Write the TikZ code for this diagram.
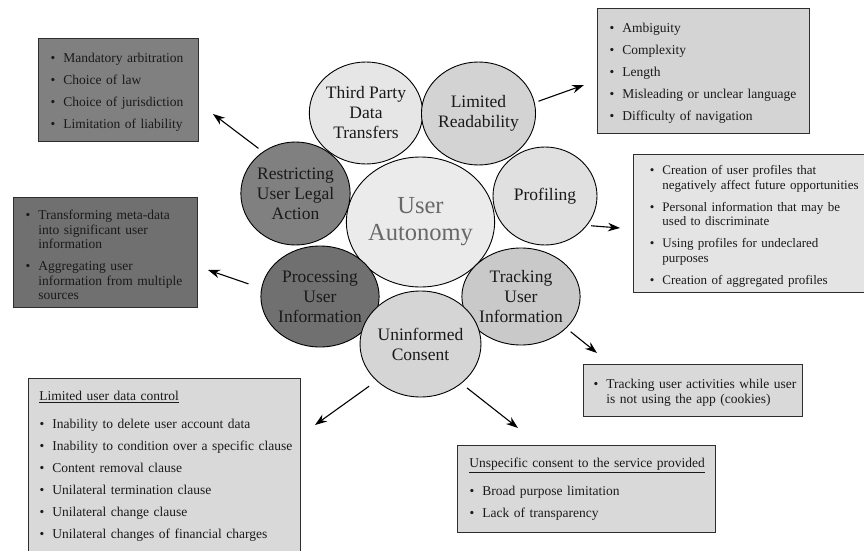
\documentclass[tikz,border=0pt]{standalone}
\usepackage{fontspec}
\setmainfont{Liberation Serif}
\usepackage{enumitem}
\usepackage{tikz}
\usetikzlibrary{arrows.meta,shapes.geometric}
\definecolor{ink}{HTML}{1A1A1A}
\definecolor{rim}{HTML}{2E2E2E}
\definecolor{autotext}{HTML}{686868}
\definecolor{autofill}{HTML}{EBEBEB}
\definecolor{thirdfill}{HTML}{E6E6E6}
\definecolor{readfill}{HTML}{D3D3D3}
\definecolor{legalfill}{HTML}{808080}
\definecolor{proffill}{HTML}{E0E0E0}
\definecolor{procfill}{HTML}{707070}
\definecolor{trackfill}{HTML}{C9C9C9}
\definecolor{consfill}{HTML}{D5D5D5}
\definecolor{readbox}{HTML}{D4D4D4}
\definecolor{profbox}{HTML}{E4E4E4}
\definecolor{lightbox}{HTML}{D9D9D9}
\setlist[itemize]{label=\textbullet,leftmargin=13pt,labelsep=8pt,itemsep=7.5pt,topsep=0pt,parsep=0pt,partopsep=0pt}
\newcommand{\oneline}[1]{\makebox[\linewidth][l]{#1}}
\tikzset{
  >={Stealth[length=12pt,width=8.5pt]},
  bubble/.style={ellipse,draw=black,line width=.9pt,inner sep=0pt,align=center,text=ink,font=\fontsize{17.5}{20}\selectfont},
  listbox/.style={draw=rim,line width=.9pt,anchor=north west,inner xsep=12pt,inner ysep=0pt,text=ink,font=\fontsize{13.5}{14.5}\selectfont},
  pointer/.style={->,line width=1.1pt,shorten <=#1},
}

\begin{document}
\begin{tikzpicture}[x=1pt,y=1pt]
  \useasboundingbox (0,0) rectangle (864,-551);

  \node[bubble,fill=autofill,minimum width=141pt,minimum height=130pt,text=autotext,font=\fontsize{24.5}{27}\selectfont]
    (auto) at (420.5,-222) {User\\Autonomy};
  \node[bubble,fill=thirdfill,minimum width=106pt,minimum height=102pt] (third) at (366,-113) {Third Party\\Data\\Transfers};
  \node[bubble,fill=readfill,minimum width=109pt,minimum height=103pt] (readab) at (478.5,-113.5) {Limited\\Readability};
  \node[bubble,fill=legalfill,minimum width=105pt,minimum height=103pt] (restrict) at (295.5,-193.5) {Restricting\\User Legal\\Action};
  \node[bubble,fill=proffill,minimum width=104pt,minimum height=98pt] (profil) at (545,-196) {Profiling};
  \node[bubble,fill=procfill,minimum width=108pt,minimum height=101pt] (process) at (320,-296.5) {Processing\\User\\Information};
  \node[bubble,fill=trackfill,minimum width=108pt,minimum height=97pt] (tracking) at (521,-296.5) {Tracking\\User\\Information};
  \node[bubble,fill=consfill,minimum width=113pt,minimum height=106pt] (consent) at (420.5,-344) {Uninformed\\Consent};

  \node[listbox,fill=legalfill,text width=136pt,minimum height=103pt] (legalbox) at (38,-38) {%
    \begin{itemize}
      \item Mandatory arbitration
      \item Choice of law
      \item Choice of jurisdiction
      \item Limitation of liability
    \end{itemize}};
  \node[listbox,fill=procfill,text width=160pt,minimum height=110pt] (procbox) at (13,-197) {%
    \begin{itemize}
      \item Transforming meta-data\newline into significant user\newline information
      \item Aggregating user\newline information from multiple\newline sources
    \end{itemize}};
  \node[listbox,fill=readbox,text width=188pt,minimum height=125pt] (readbox) at (597,-8) {%
    \begin{itemize}
      \item Ambiguity
      \item Complexity
      \item Length
      \item Misleading or unclear language
      \item Difficulty of navigation
    \end{itemize}};
  \node[listbox,fill=profbox,inner xsep=16pt,text width=212pt,minimum height=138pt,font=\fontsize{13}{14.5}\selectfont]
    (profbox) at (633,-154) {%
    \begin{itemize}
      \item Creation of user profiles that\newline negatively affect future opportunities
      \item Personal information that may be\newline used to discriminate
      \item Using profiles for undeclared\newline purposes
      \item Creation of aggregated profiles
    \end{itemize}};
  \node[listbox,fill=lightbox,inner xsep=10pt,text width=199pt,minimum height=52pt] (trackbox) at (583,-364) {%
    \begin{itemize}
      \item \oneline{Tracking user activities while user}\newline is not using the app (cookies)
    \end{itemize}};
  \node[listbox,fill=lightbox,text width=234pt,minimum height=87pt] (specbox) at (457,-445) {%
    \underline{Unspecific consent to the service provided}\par\vspace{13pt}
    \begin{itemize}
      \item Broad purpose limitation
      \item Lack of transparency
    \end{itemize}};
  \node[listbox,fill=lightbox,inner xsep=11pt,text width=250pt,minimum height=176pt] (databox) at (28,-378) {%
    \underline{Limited user data control}\par\vspace{13pt}
    \begin{itemize}
      \item Inability to delete user account data
      \item \oneline{Inability to condition over a specific clause}
      \item Content removal clause
      \item Unilateral termination clause
      \item Unilateral change clause
      \item Unilateral changes of financial charges
    \end{itemize}};

  \coordinate (legaltip) at (213,-114);
  \coordinate (proctip) at (208,-270);
  \coordinate (readtip) at (584,-85);
  \coordinate (proftip) at (620,-228);
  \coordinate (tracktip) at (597,-353);
  \coordinate (spectip) at (518,-428);
  \coordinate (datatip) at (315,-425);
  \draw[pointer=5.5pt] (restrict.128) -- (legaltip);
  \draw[pointer=13.5pt] (process.172) -- (proctip);
  \draw[pointer=4pt] (readab.11) -- (readtip);
  \draw[pointer=4pt] (profil.-35) -- (proftip);
  \draw[pointer=5.5pt] (tracking.-35) -- (tracktip);
  \draw[pointer=7pt] (consent.-44) -- (spectip);
  \draw[pointer=9pt] (consent.220) -- (datatip);
\end{tikzpicture}
\end{document}
